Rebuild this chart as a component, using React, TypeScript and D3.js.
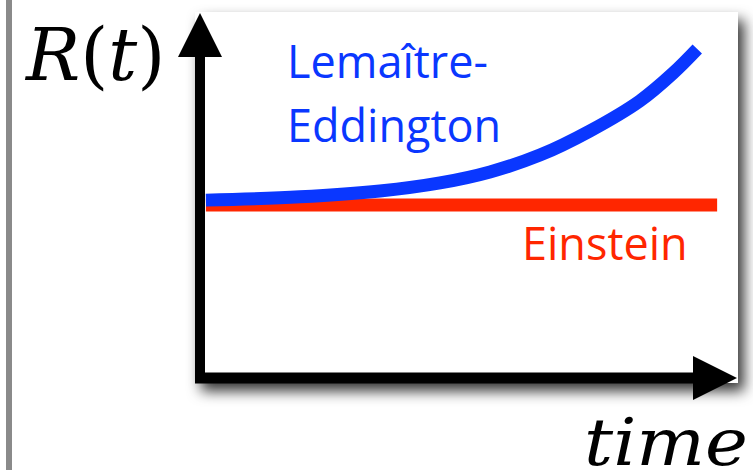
import React from "react";
import * as d3 from "d3";

const W = 753;
const H = 470;

// time in [0,1], R(t) in [0,1]
const lemaitreTime = [0.011, 0.186, 0.335, 0.447, 0.54, 0.633, 0.726, 0.819, 0.881, 0.926];
const lemaitreR = [0.486, 0.495, 0.511, 0.533, 0.563, 0.609, 0.675, 0.757, 0.833, 0.899];
const einsteinTime = [0.011, 0.963];
const einsteinR = [0.473, 0.473];

const seriesLabels = ["Lemaître-", "Eddington", "Einstein"];
const axisLabelY = ["R", "(", "t", ")"];
const axisLabelX = "time";

export default function App() {
  const x = d3.scaleLinear().domain([0, 1]).range([200, 737]);
  const y = d3.scaleLinear().domain([0, 1]).range([378, 12]);

  const line = d3
    .line<[number, number]>()
    .x((d) => x(d[0]))
    .y((d) => y(d[1]))
    .curve(d3.curveCatmullRom.alpha(0.5));

  const lemPts: [number, number][] = lemaitreTime.map((t, i) => [t, lemaitreR[i]]);
  const einPts: [number, number][] = einsteinTime.map((t, i) => [t, einsteinR[i]]);

  const ax0 = x(0);
  const ay0 = y(0);
  const yTip = y(1) + 1;
  const xTip = x(1);
  const head = 44;
  const half = 22;

  return (
    <svg
      width={W}
      height={H}
      style={{ position: "absolute", left: 0, top: 0, background: "#fff" }}
    >
      <defs>
        <filter id="shadow" x="-10%" y="-10%" width="130%" height="130%">
          <feDropShadow dx="6" dy="8" stdDeviation="7" floodColor="#000" floodOpacity="0.8" />
        </filter>
      </defs>
      <rect x={0} y={0} width={W} height={H} fill="#fff" />
      <rect x={6} y={0} width={6} height={H} fill="#8a8a8a" />
      <rect x={195} y={12} width={543} height={371} fill="#fff" filter="url(#shadow)" />

      {/* axes */}
      <line x1={ax0} y1={ay0 + 5} x2={ax0} y2={yTip + head - 2} stroke="#000" strokeWidth={10} />
      <line x1={ax0 - 5} y1={ay0} x2={xTip - head + 2} y2={ay0} stroke="#000" strokeWidth={11} />
      <path
        d={`M${ax0},${yTip} L${ax0 - half},${yTip + head} L${ax0 + half},${yTip + head} Z`}
        fill="#000"
      />
      <path
        d={`M${xTip},${ay0} L${xTip - head},${ay0 - half} L${xTip - head},${ay0 + half} Z`}
        fill="#000"
      />

      {/* series */}
      <path d={line(einPts) || ""} fill="none" stroke="#ff2600" strokeWidth={13} />
      <path d={line(lemPts) || ""} fill="none" stroke="#0a37ff" strokeWidth={13} />

      <g fontFamily="'Open Sans', sans-serif" fontSize={45}>
        <text x={287} y={78} fill="#0a37ff">{seriesLabels[0]}</text>
        <text x={287} y={142} fill="#0a37ff">{seriesLabels[1]}</text>
        <text x={522} y={260} fill="#ff2600">{seriesLabels[2]}</text>
      </g>

      <text x={26} y={80} fontFamily="'DejaVu Serif', serif" fontSize={72} fill="#000">
        <tspan fontStyle="italic">{axisLabelY[0]}</tspan>
        <tspan>{axisLabelY[1]}</tspan>
        <tspan fontStyle="italic">{axisLabelY[2]}</tspan>
        <tspan>{axisLabelY[3]}</tspan>
      </text>
      <text
        x={584}
        y={465}
        fontFamily="'DejaVu Serif', serif"
        fontStyle="italic"
        fontSize={66}
        textLength={164}
        lengthAdjust="spacingAndGlyphs"
        fill="#000"
      >
        {axisLabelX}
      </text>
    </svg>
  );
}
